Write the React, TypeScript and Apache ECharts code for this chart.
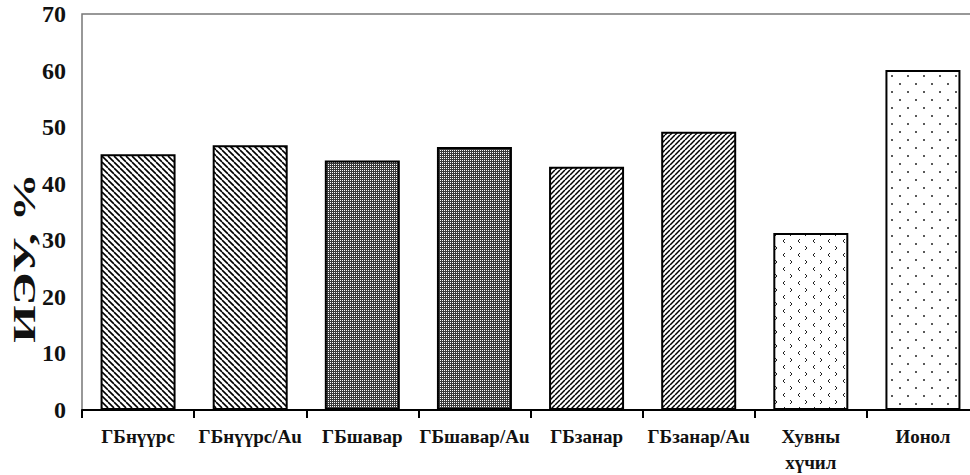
import React, { useEffect, useRef } from "react";
import * as echarts from "echarts";

const categories = ["ГБнүүрс", "ГБнүүрс/Au", "ГБшавар", "ГБшавар/Au", "ГБзанар", "ГБзанар/Au", "Хувны хүчил", "Ионол"];
const values = [45.2, 46.8, 44.1, 46.5, 43.0, 49.2, 31.3, 60.1];
const patternKeys = ["back", "back", "checker", "checker", "fwd", "fwd", "chevron", "dots"];
const yTicks = { min: 0, max: 70, interval: 10 };
const yName = "ИЭУ, %";

const FONT = '"Liberation Serif", "Times New Roman", serif';

function mk(w: number, h: number, draw: (ctx: CanvasRenderingContext2D) => void) {
  const c = document.createElement("canvas");
  c.width = w;
  c.height = h;
  const ctx = c.getContext("2d") as CanvasRenderingContext2D;
  ctx.fillStyle = "#fff";
  ctx.fillRect(0, 0, w, h);
  draw(ctx);
  return { image: c, repeat: "repeat", imageWidth: w, imageHeight: h } as any;
}

function buildPatterns() {
  const back = mk(6, 6, (ctx) => {
    ctx.strokeStyle = "#000";
    ctx.lineWidth = 1.6;
    for (const x0 of [-6, 0, 6]) {
      ctx.beginPath();
      ctx.moveTo(x0, 0);
      ctx.lineTo(x0 + 6, 6);
      ctx.stroke();
    }
  });
  const fwd = mk(5, 5, (ctx) => {
    ctx.strokeStyle = "#000";
    ctx.lineWidth = 1.5;
    for (const x0 of [-5, 0, 5]) {
      ctx.beginPath();
      ctx.moveTo(x0, 5);
      ctx.lineTo(x0 + 5, 0);
      ctx.stroke();
    }
  });
  const checker = mk(2, 2, (ctx) => {
    ctx.fillStyle = "#3a3a3a";
    ctx.fillRect(1, 0, 1, 1);
    ctx.fillRect(0, 1, 1, 1);
    ctx.fillRect(1, 1, 1, 1);
  });
  const chevron = mk(15, 14, (ctx) => {
    ctx.strokeStyle = "#222";
    ctx.lineWidth = 1;
    ctx.beginPath();
    ctx.moveTo(5, 1);
    ctx.lineTo(3, 3);
    ctx.lineTo(5, 5);
    ctx.stroke();
    ctx.beginPath();
    ctx.moveTo(10, 8);
    ctx.lineTo(12, 10);
    ctx.lineTo(10, 12);
    ctx.stroke();
  });
  const dots = mk(16, 16, (ctx) => {
    ctx.fillStyle = "#222";
    ctx.beginPath();
    ctx.arc(4, 4, 1, 0, Math.PI * 2);
    ctx.fill();
    ctx.beginPath();
    ctx.arc(12, 12, 1, 0, Math.PI * 2);
    ctx.fill();
  });
  return { back, fwd, checker, chevron, dots } as Record<string, any>;
}

export default function App() {
  const ref = useRef<HTMLDivElement>(null);
  useEffect(() => {
    document.body.style.margin = "0";
    document.body.style.overflow = "hidden";
    if (!ref.current) return;
    const chart = echarts.init(ref.current, null, { renderer: "svg" });
    const pats = buildPatterns();
    chart.setOption({
      animation: false,
      backgroundColor: "#fff",
      grid: {
        left: 82,
        top: 14,
        width: 897,
        height: 397.5,
        show: true,
        borderColor: "#777",
        borderWidth: 1.5,
        backgroundColor: "transparent",
      },
      xAxis: {
        type: "category",
        data: categories,
        axisLine: { show: true, lineStyle: { color: "#000", width: 2 } },
        axisTick: { show: true, alignWithLabel: false, interval: 0, length: 8, lineStyle: { color: "#000", width: 2 } },
        axisLabel: {
          interval: 0,
          fontFamily: FONT,
          fontWeight: "bold",
          fontSize: 19,
          color: "#111",
          margin: 13,
          lineHeight: 26,
          formatter: (v: string) => v.replace(" ", "\n"),
        },
      },
      yAxis: {
        type: "value",
        min: yTicks.min,
        max: yTicks.max,
        interval: yTicks.interval,
        axisLine: { show: false },
        axisTick: { show: false },
        splitLine: { show: false },
        axisLabel: { fontFamily: FONT, fontWeight: "bold", fontSize: 24, color: "#111", margin: 16 },
      },
      graphic: [
        {
          type: "text",
          x: 25,
          y: 258,
          rotation: Math.PI / 2,
          scaleX: 1.55,
          style: {
            text: yName,
            font: `bold 31px ${FONT}`,
            fill: "#111",
            align: "center",
            verticalAlign: "middle",
          },
        },
      ],
      series: [
        {
          type: "bar",
          barWidth: 75,
          data: values.map((v, i) => ({ value: v, itemStyle: { color: pats[patternKeys[i]] } })),
          itemStyle: { borderColor: "#000", borderWidth: 2 },
        },
      ],
    });
    return () => chart.dispose();
  }, []);
  return (
    <div style={{ width: 970, height: 475, overflow: "hidden" }}>
      <div ref={ref} style={{ width: 990, height: 475 }} />
    </div>
  );
}
